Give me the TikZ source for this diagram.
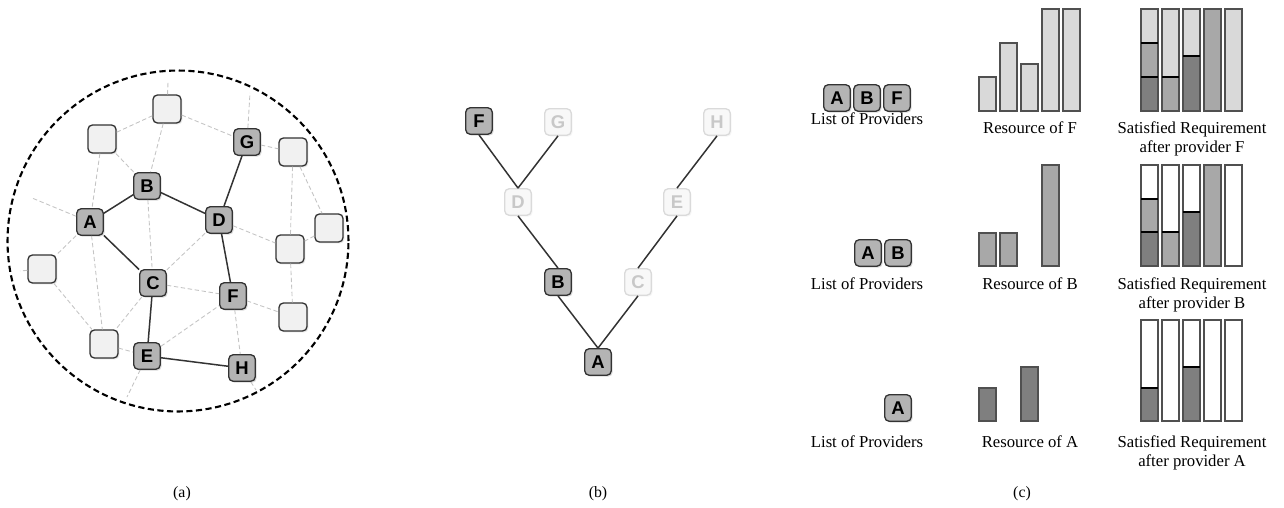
\documentclass[tikz,border=0pt]{standalone}
\usepackage{fontspec}
\setmainfont{Liberation Serif}
\newfontfamily\keyfont{Liberation Sans}
\usetikzlibrary{shadows}

\definecolor{nodefill}{HTML}{B4B4B4}
\definecolor{nodeline}{HTML}{333333}
\definecolor{idlefill}{HTML}{F1F1F1}
\definecolor{fadefill}{HTML}{F8F8F8}
\definecolor{fadeline}{HTML}{DADADA}
\definecolor{fadetext}{HTML}{C8C8C8}
\definecolor{linkgray}{HTML}{C4C4C4}
\definecolor{resdark}{HTML}{7F7F7F}
\definecolor{resmid}{HTML}{A8A8A8}
\definecolor{reslight}{HTML}{D9D9D9}
\definecolor{barline}{HTML}{505050}

\begin{document}
\begin{tikzpicture}[x=0.02cm,y=-0.02cm,
  keybox/.style={draw=nodeline, line width=0.75pt, rounded corners=2.5pt,
    minimum size=0.53cm, inner sep=0pt,
    font=\keyfont\bfseries\fontsize{10.5}{11}\selectfont},
  peer/.style={keybox, fill=nodefill,
    drop shadow={opacity=0.3, shadow xshift=0.8pt, shadow yshift=-0.8pt}},
  idle/.style={keybox, fill=idlefill, minimum size=0.56cm,
    drop shadow={opacity=0.2, shadow xshift=0.8pt, shadow yshift=-0.8pt}},
  faded/.style={keybox, draw=fadeline, fill=fadefill, text=fadetext,
    drop shadow={opacity=0.08, shadow xshift=0.8pt, shadow yshift=-0.8pt}},
  link/.style={draw=nodeline, line width=0.85pt},
  wire/.style={draw=linkgray, line width=0.5pt, dash pattern=on 2.5pt off 1.5pt},
  rim/.style={draw=black, line width=1.2pt, dash pattern=on 3.5pt off 2pt},
  bar/.style={draw=barline, line width=0.6pt},
  cut/.style={draw=black, line width=1pt},
  caption/.style={font=\fontsize{9.5}{11}\selectfont, inner sep=0pt, anchor=base},
  tag/.style={font=\fontsize{9}{11}\selectfont, inner sep=0pt, anchor=base}]

\useasboundingbox (0,0) rectangle (1284,507);

% ---------------- (a) overlay network ----------------
\draw[rim] (178,241) circle [radius=3.41cm];

\node[peer] (A) at (90,222) {A};
\node[peer] (B) at (147,186) {B};
\node[peer] (C) at (153,283) {C};
\node[peer] (D) at (219,220) {D};
\node[peer] (E) at (147,356) {E};
\node[peer] (F) at (233,296) {F};
\node[peer] (G) at (247,142) {G};
\node[peer] (H) at (242,368) {H};

\node[idle] (n1) at (102,139) {};
\node[idle] (n2) at (167,109) {};
\node[idle] (n3) at (42,269) {};
\node[idle] (n4) at (293,152) {};
\node[idle] (n5) at (329,228) {};
\node[idle] (n6) at (290,249) {};
\node[idle] (n7) at (293,317) {};
\node[idle] (n8) at (104,344) {};

\coordinate (s1) at (168,82);
\coordinate (s2) at (250,93);
\coordinate (s3) at (32,198);
\coordinate (s4) at (20,271);
\coordinate (s5) at (127,397);
\coordinate (s6) at (256,390);

% unused links
\draw[wire] (n1) -- (n2);
\draw[wire] (n2) -- (G);
\draw[wire] (n2) -- (B);
\draw[wire] (n1) -- (B);
\draw[wire] (n1) -- (A);
\draw[wire] (G) -- (n4);
\draw[wire] (n4) -- (n5);
\draw[wire] (n4) -- (n6);
\draw[wire] (n5) -- (n6);
\draw[wire] (D) -- (n6);
\draw[wire] (D) -- (C);
\draw[wire] (B) -- (C);
\draw[wire] (A) -- (n3);
\draw[wire] (A) -- (n8);
\draw[wire] (C) -- (n8);
\draw[wire] (n3) -- (n8);
\draw[wire] (n8) -- (E);
\draw[wire] (C) -- (F);
\draw[wire] (E) -- (F);
\draw[wire] (F) -- (n7);
\draw[wire] (F) -- (H);
\draw[wire] (n6) -- (n7);
\draw[wire] (n2) -- (s1);
\draw[wire] (G) -- (s2);
\draw[wire] (A) -- (s3);
\draw[wire] (n3) -- (s4);
\draw[wire] (E) -- (s5);
\draw[wire] (H) -- (s6);

% provider links
\draw[link] (A) -- (B);
\draw[link] (B) -- (D);
\draw[link] (A) -- (C);
\draw[link] (G) -- (D);
\draw[link] (D) -- (F);
\draw[link] (C) -- (E);
\draw[link] (E) -- (H);

\node[tag] (capa) at (182,497) {(a)};

% ---------------- (b) search tree ----------------
\node[peer]  (tF) at (479,121) {F};
\node[faded] (tG) at (558,122) {G};
\node[faded] (tH) at (717,122) {H};
\node[faded] (tD) at (518,202) {D};
\node[faded] (tE) at (677,202) {E};
\node[peer]  (tB) at (558,282) {B};
\node[faded] (tC) at (638,282) {C};
\node[peer]  (tA) at (598,362) {A};

\draw[link] (tF.south) -- (tD.north);
\draw[link] (tG.south) -- (tD.north);
\draw[link] (tD.south) -- (tB.north);
\draw[link] (tB.south) -- (tA.north);
\draw[link] (tA.north) -- (tC.south);
\draw[link] (tC.north) -- (tE.south);
\draw[link] (tE.north) -- (tH.south);

\node[tag] (capb) at (598,497) {(b)};

% ---------------- (c) resources and requirements ----------------
% provider lists
\node[peer] (l1a) at (837,98) {A};
\node[peer] (l1b) at (867,98) {B};
\node[peer] (l1f) at (897,98) {F};
\node[peer] (l2a) at (868,253) {A};
\node[peer] (l2b) at (898,253) {B};
\node[peer] (l3a) at (898,408) {A};

\node[caption] (lp1) at (867,124) {List of Providers};
\node[caption] (lp2) at (867,289) {List of Providers};
\node[caption] (lp3) at (867,447) {List of Providers};

% resource of F
\draw[bar, fill=reslight] (979,111) rectangle (996,77);
\draw[bar, fill=reslight] (1000,111) rectangle (1017,43);
\draw[bar, fill=reslight] (1021,111) rectangle (1038,64);
\draw[bar, fill=reslight] (1042,111) rectangle (1059,9);
\draw[bar, fill=reslight] (1063,111) rectangle (1080,9);
\node[caption] (rf) at (1030,133) {Resource of F};

% requirement after F
\fill[resdark]  (1141,111) rectangle (1158,77);
\fill[resmid]   (1141,77) rectangle (1158,43);
\fill[reslight] (1141,43) rectangle (1158,9);
\draw[bar] (1141,111) rectangle (1158,9);
\draw[cut] (1141,77) -- (1158,77);
\draw[cut] (1141,43) -- (1158,43);
\fill[resmid]   (1162,111) rectangle (1179,77);
\fill[reslight] (1162,77) rectangle (1179,9);
\draw[bar] (1162,111) rectangle (1179,9);
\draw[cut] (1162,77) -- (1179,77);
\fill[resdark]  (1183,111) rectangle (1200,56);
\fill[reslight] (1183,56) rectangle (1200,9);
\draw[bar] (1183,111) rectangle (1200,9);
\draw[cut] (1183,56) -- (1200,56);
\draw[bar, fill=resmid]   (1204,111) rectangle (1221,9);
\draw[bar, fill=reslight] (1225,111) rectangle (1242,9);
\node[caption] (sf1) at (1192,133) {Satisfied Requirement};
\node[caption] (sf2) at (1192,152) {after provider F};

% resource of B
\draw[bar, fill=resmid] (979,266) rectangle (996,233);
\draw[bar, fill=resmid] (1000,266) rectangle (1017,233);
\draw[bar, fill=resmid] (1042,266) rectangle (1059,165);
\node[caption] (rb) at (1030,289) {Resource of B};

% requirement after B
\fill[resdark] (1141,266) rectangle (1158,232);
\fill[resmid]  (1141,232) rectangle (1158,199);
\fill[white]   (1141,199) rectangle (1158,165);
\draw[bar] (1141,266) rectangle (1158,165);
\draw[cut] (1141,232) -- (1158,232);
\draw[cut] (1141,199) -- (1158,199);
\fill[resmid] (1162,266) rectangle (1179,232);
\draw[bar] (1162,266) rectangle (1179,165);
\draw[cut] (1162,232) -- (1179,232);
\fill[resdark] (1183,266) rectangle (1200,212);
\draw[bar] (1183,266) rectangle (1200,165);
\draw[cut] (1183,212) -- (1200,212);
\draw[bar, fill=resmid] (1204,266) rectangle (1221,165);
\draw[bar, fill=white]  (1225,266) rectangle (1242,165);
\node[caption] (sb1) at (1192,289) {Satisfied Requirement};
\node[caption] (sb2) at (1192,308) {after provider B};

% resource of A
\draw[bar, fill=resdark] (979,421) rectangle (996,388);
\draw[bar, fill=resdark] (1021,421) rectangle (1038,367);
\node[caption] (ra) at (1030,447) {Resource of A};

% requirement after A
\fill[resdark] (1141,421) rectangle (1158,388);
\draw[bar] (1141,421) rectangle (1158,320);
\draw[cut] (1141,388) -- (1158,388);
\draw[bar] (1162,421) rectangle (1179,320);
\fill[resdark] (1183,421) rectangle (1200,367);
\draw[bar] (1183,421) rectangle (1200,320);
\draw[cut] (1183,367) -- (1200,367);
\draw[bar] (1204,421) rectangle (1221,320);
\draw[bar] (1225,421) rectangle (1242,320);
\node[caption] (sa1) at (1192,447) {Satisfied Requirement};
\node[caption] (sa2) at (1192,466) {after provider A};

\node[tag] (capc) at (1022,497) {(c)};
\end{tikzpicture}
\end{document}
